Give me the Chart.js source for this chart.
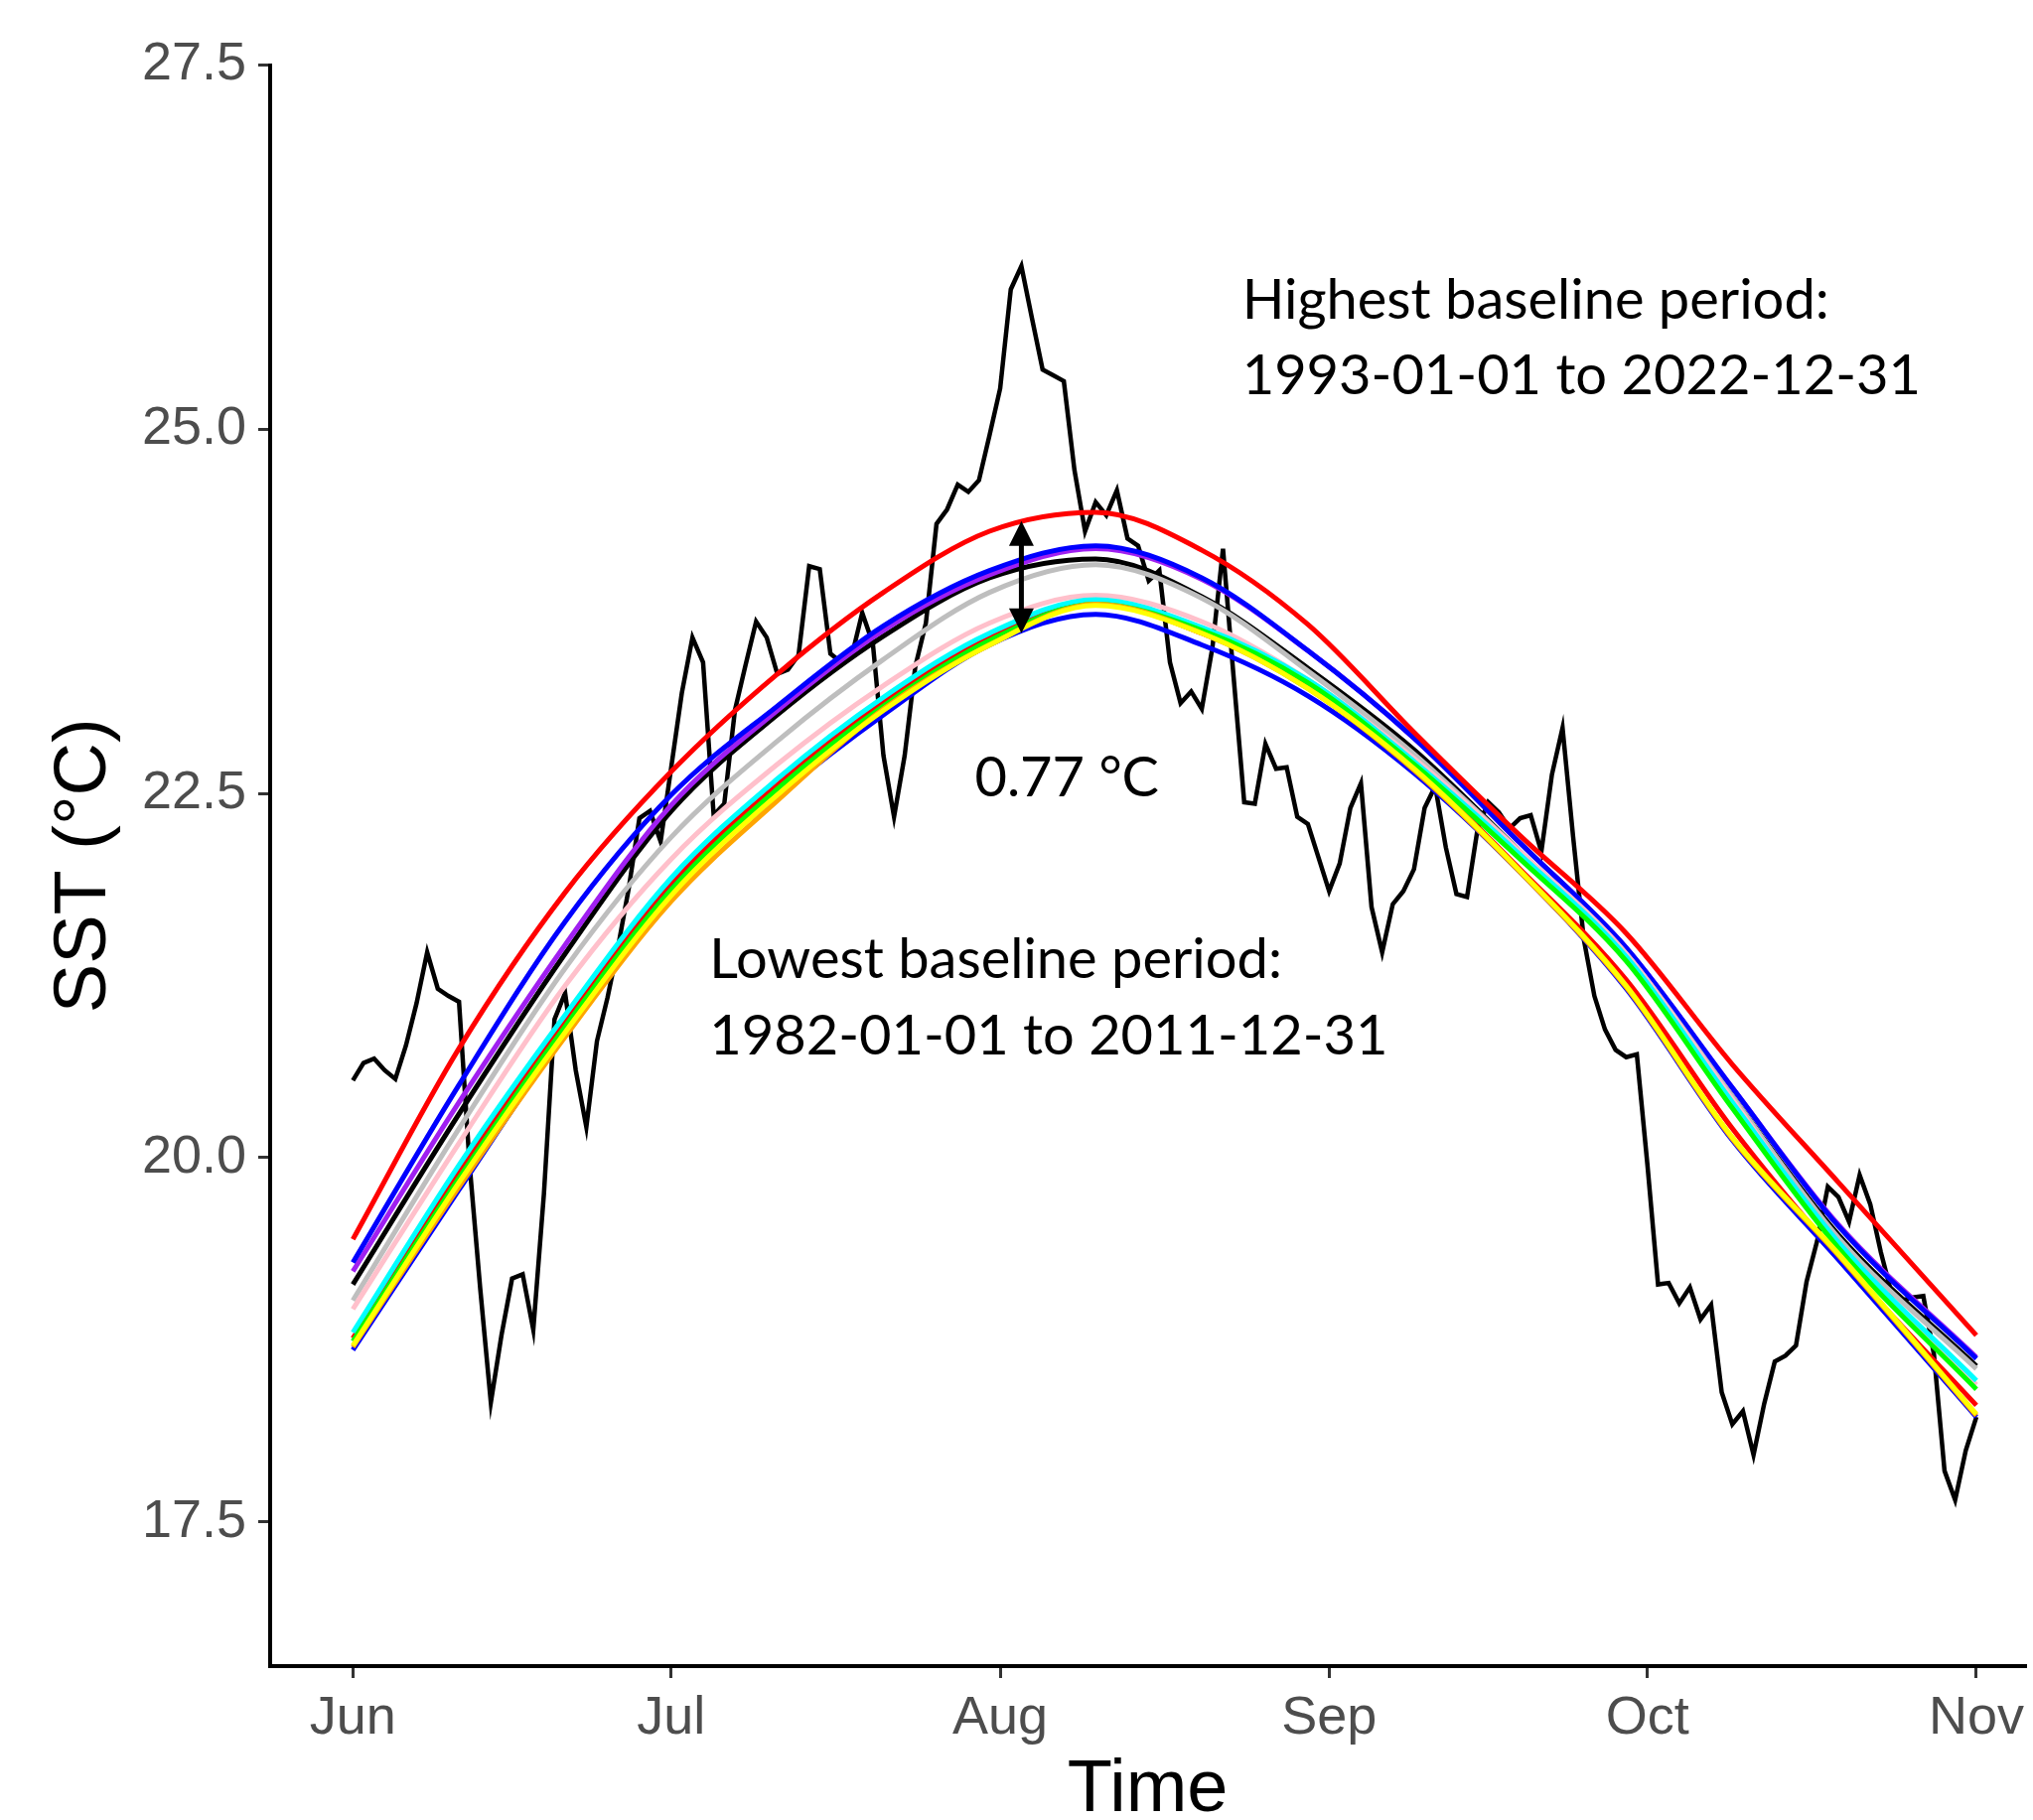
<!DOCTYPE html>
<html>
<head>
<meta charset="utf-8">
<title>SST and baseline climatologies</title>
<script src="https://cdn.jsdelivr.net/npm/chart.js@4.4.1/dist/chart.umd.min.js"></script>
<style>
  html, body { margin: 0; padding: 0; background: #ffffff; overflow: hidden; }
  #wrap { width: 2047px; height: 1833px; }
</style>
</head>
<body>
<div id="wrap"><canvas id="sstChart" width="2047" height="1833"></canvas></div>
<script>
// x values are days counted from 1 June (0) to 1 November (153)
const monthTicks = [0, 30, 61, 92, 122, 153];
const monthLabels = ['Jun', 'Jul', 'Aug', 'Sep', 'Oct', 'Nov'];
const yTicks = [17.5, 20.0, 22.5, 25.0, 27.5];

// Observed daily SST (one value per day)
const observedSst = [
  20.53, 20.65, 20.68, 20.60, 20.54, 20.77, 21.06, 21.41, 21.16, 21.11,
  21.07, 19.95, 19.10, 18.32, 18.78, 19.17, 19.20, 18.82, 19.75, 20.95,
  21.13, 20.60, 20.21, 20.80, 21.10, 21.45, 21.85, 22.33, 22.38, 22.17,
  22.68, 23.19, 23.57, 23.40, 22.35, 22.43, 23.07, 23.38, 23.68, 23.57,
  23.32, 23.35, 23.45, 24.06, 24.04, 23.46, 23.40, 23.44, 23.74, 23.53,
  22.76, 22.34, 22.76, 23.37, 23.67, 24.35, 24.45, 24.62, 24.57, 24.65,
  24.96, 25.28, 25.96, 26.12, 25.76, 25.41, 25.37, 25.33, 24.72, 24.30,
  24.50, 24.41, 24.58, 24.25, 24.20, 23.96, 24.03, 23.40, 23.12, 23.20,
  23.08, 23.50, 24.18, 23.30, 22.44, 22.43, 22.84, 22.67, 22.68, 22.34,
  22.29, 22.06, 21.83, 22.02, 22.40, 22.57, 21.72, 21.41, 21.74, 21.83,
  21.98, 22.40, 22.55, 22.13, 21.81, 21.79, 22.26, 22.44, 22.37, 22.26,
  22.33, 22.35, 22.10, 22.63, 22.95, 22.20, 21.50, 21.11, 20.88, 20.74,
  20.69, 20.71, 19.95, 19.13, 19.14, 19.00, 19.11, 18.89, 18.99, 18.39,
  18.17, 18.26, 17.96, 18.31, 18.60, 18.64, 18.71, 19.15, 19.43, 19.80,
  19.73, 19.56, 19.88, 19.68, 19.35, 19.07, 19.02, 19.04, 19.05, 18.65,
  17.85, 17.65, 17.99, 18.22
];

// Climatologies for the different 30-year baseline periods
const climDays = [0, 10, 20, 30, 40, 50, 60, 70, 80, 90, 100, 110, 120, 130, 140, 153];
const climRed    = [19.44, 20.75, 21.82, 22.65, 23.32, 23.88, 24.30, 24.43, 24.17, 23.66, 22.92, 22.21, 21.54, 20.64, 19.83, 18.78];
const climBlue   = [19.28, 20.50, 21.62, 22.49, 23.10, 23.65, 24.03, 24.20, 23.98, 23.48, 22.88, 22.16, 21.44, 20.48, 19.53, 18.62];
const climPurple = [19.22, 20.38, 21.46, 22.42, 23.07, 23.62, 24.00, 24.18, 23.97, 23.48, 22.88, 22.16, 21.44, 20.48, 19.54, 18.63];
const climBlack  = [19.13, 20.30, 21.40, 22.38, 23.04, 23.58, 23.98, 24.11, 23.85, 23.36, 22.80, 22.10, 21.38, 20.42, 19.47, 18.57];
const climGrey   = [19.02, 20.20, 21.30, 22.20, 22.86, 23.42, 23.88, 24.07, 23.84, 23.34, 22.77, 22.10, 21.40, 20.42, 19.45, 18.55];
const climPink   = [18.96, 20.10, 21.18, 22.05, 22.70, 23.24, 23.67, 23.86, 23.68, 23.28, 22.74, 22.10, 21.40, 20.40, 19.40, 18.44];
const climCyan   = [18.80, 19.95, 20.98, 21.92, 22.60, 23.16, 23.60, 23.83, 23.64, 23.28, 22.72, 22.08, 21.38, 20.38, 19.42, 18.47];
const climRed2   = [18.76, 19.90, 20.93, 21.88, 22.56, 23.13, 23.57, 23.81, 23.60, 23.24, 22.68, 21.98, 21.22, 20.20, 19.32, 18.30];
const climGreen  = [18.74, 19.86, 20.90, 21.84, 22.53, 23.10, 23.55, 23.80, 23.62, 23.26, 22.70, 22.05, 21.35, 20.34, 19.38, 18.41];
const climYellow = [18.71, 19.83, 20.86, 21.80, 22.49, 23.07, 23.52, 23.79, 23.60, 23.22, 22.67, 21.97, 21.18, 20.14, 19.34, 18.24];
const climOrange = [18.70, 19.80, 20.83, 21.76, 22.45, 23.08, 23.52, 23.80, 23.60, 23.22, 22.66, 21.96, 21.17, 20.13, 19.33, 18.23];
const climBlue2  = [18.68, 19.78, 20.86, 21.84, 22.48, 23.04, 23.52, 23.73, 23.52, 23.17, 22.64, 21.96, 21.16, 20.12, 19.30, 18.22];

// Difference arrow on 3 August and the text notes
const arrowDay = 63;
const arrowTop = 24.37;
const arrowBottom = 23.60;
const noteTexts = ['Highest baseline period:', '1993-01-01 to 2022-12-31', '0.77 \u00B0C',
                   'Lowest baseline period:', '1982-01-01 to 2011-12-31'];
const noteDays = [83.8, 83.8, 58.6, 33.6, 33.6];
const noteValues = [25.76, 25.24, 22.48, 21.23, 20.71];

const axisFont = 'Liberation Sans';
const noteFont = 'Lato';

function toPoints(days, values) {
    return values.map((v, i) => ({ x: days[i], y: v }));
}

function climLine(label, color, values) {
    return {
        label: label,
        data: toPoints(climDays, values),
        borderColor: color,
        borderWidth: 5,
        pointRadius: 0,
        cubicInterpolationMode: 'monotone',
        fill: false
    };
}

// Arrow and notes, placed through the chart scales
const notesPlugin = {
    id: 'sstNotes',
    afterDatasetsDraw(chart) {
        const { ctx, scales } = chart;
        const x = scales.x, y = scales.y;
        ctx.save();

        const ax = x.getPixelForValue(arrowDay);
        const yTop = y.getPixelForValue(arrowTop);
        const yBot = y.getPixelForValue(arrowBottom);
        const head = 25, half = 12.5;
        ctx.strokeStyle = '#000';
        ctx.fillStyle = '#000';
        ctx.lineWidth = 5;
        ctx.beginPath();
        ctx.moveTo(ax, yTop + head - 2);
        ctx.lineTo(ax, yBot - head + 2);
        ctx.stroke();
        ctx.beginPath();
        ctx.moveTo(ax, yTop);
        ctx.lineTo(ax - half, yTop + head);
        ctx.lineTo(ax + half, yTop + head);
        ctx.closePath();
        ctx.fill();
        ctx.beginPath();
        ctx.moveTo(ax, yBot);
        ctx.lineTo(ax - half, yBot - head);
        ctx.lineTo(ax + half, yBot - head);
        ctx.closePath();
        ctx.fill();

        ctx.font = '56px ' + noteFont;
        ctx.textAlign = 'left';
        ctx.textBaseline = 'alphabetic';
        noteTexts.forEach((t, i) => {
            ctx.fillText(t, x.getPixelForValue(noteDays[i]), y.getPixelForValue(noteValues[i]));
        });
        ctx.restore();
    }
};

function drawChart() {
    const ctx = document.getElementById('sstChart').getContext('2d');
    const observedDays = observedSst.map((v, i) => i);

    new Chart(ctx, {
        type: 'line',
        data: {
            datasets: [
                climLine('1993-2022', '#FF0000', climRed),
                climLine('yellow', '#FFFF00', climYellow),
                climLine('orange', '#FFA500', climOrange),
                climLine('green', '#00FF00', climGreen),
                climLine('cyan', '#00FFFF', climCyan),
                climLine('pink', '#FFC0CB', climPink),
                climLine('grey', '#BEBEBE', climGrey),
                climLine('blue', '#0000FF', climBlue),
                climLine('purple', '#A020F0', climPurple),
                climLine('black', '#000000', climBlack),
                climLine('1982-2011', '#0000FF', climBlue2),
                climLine('red', '#FF0000', climRed2),
                {
                    label: 'Observed SST',
                    data: toPoints(observedDays, observedSst),
                    borderColor: '#000000',
                    borderWidth: 4.5,
                    pointRadius: 0,
                    tension: 0,
                    fill: false
                }
            ]
        },
        options: {
            responsive: false,
            animation: false,
            layout: { padding: { top: 65.5, right: 0, bottom: 0, left: 0 } },
            plugins: {
                legend: { display: false },
                tooltip: { enabled: false }
            },
            scales: {
                x: {
                    type: 'linear',
                    min: -7.8,
                    max: 157.62,
                    afterBuildTicks: (scale) => { scale.ticks = monthTicks.map(v => ({ value: v })); },
                    afterFit: (scale) => { scale.height = 155; },
                    ticks: {
                        callback: (v) => monthLabels[monthTicks.indexOf(v)],
                        font: { family: axisFont, size: 54 },
                        color: '#4D4D4D',
                        padding: 9,
                        maxRotation: 0,
                        autoSkip: false
                    },
                    grid: { drawOnChartArea: false, drawTicks: true, tickLength: 12, color: '#333333', lineWidth: 3 },
                    border: { display: true, color: '#000000', width: 4 },
                    title: {
                        display: true,
                        text: 'Time',
                        color: '#000000',
                        font: { family: axisFont, size: 74, lineHeight: 0.8 },
                        padding: { top: 0, bottom: 0 }
                    }
                },
                y: {
                    min: 16.51,
                    max: 27.5,
                    afterBuildTicks: (scale) => { scale.ticks = yTicks.map(v => ({ value: v })); },
                    afterFit: (scale) => { scale.width = 272; },
                    ticks: {
                        callback: (v) => v.toFixed(1),
                        font: { family: axisFont, size: 54 },
                        color: '#4D4D4D',
                        padding: 12
                    },
                    grid: { drawOnChartArea: false, drawTicks: true, tickLength: 12, color: '#333333', lineWidth: 3 },
                    border: { display: true, color: '#000000', width: 4 },
                    title: {
                        display: true,
                        text: 'SST (\u00B0C)',
                        color: '#000000',
                        font: { family: axisFont, size: 74 },
                        padding: { top: 41, bottom: 0 }
                    }
                }
            }
        },
        plugins: [notesPlugin]
    });
}

document.addEventListener('DOMContentLoaded', function() {
    Promise.all([
        document.fonts.load('56px ' + noteFont),
        document.fonts.load('54px "' + axisFont + '"')
    ]).then(drawChart, drawChart);
});
</script>
</body>
</html>
